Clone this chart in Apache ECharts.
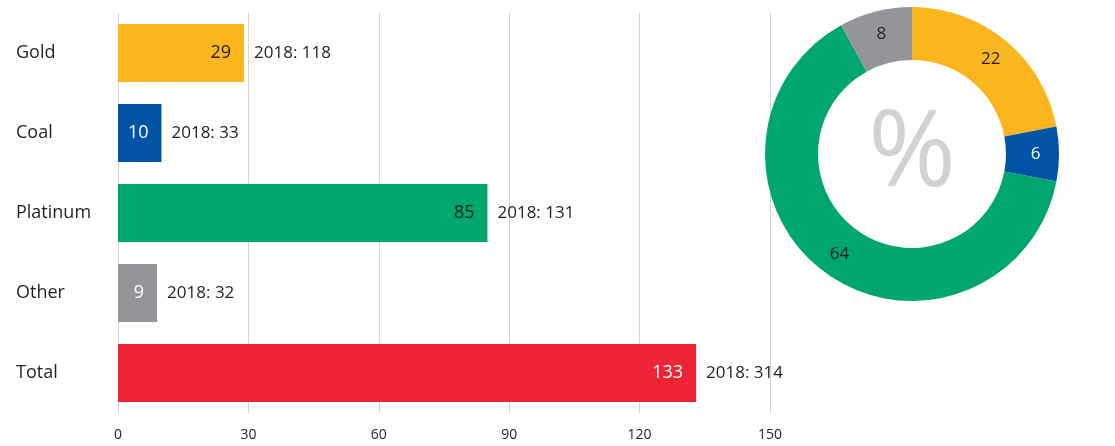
<!DOCTYPE html>
<html>
<head>
<meta charset="utf-8">
<script src="https://cdn.jsdelivr.net/npm/echarts@6/dist/echarts.min.js"></script>
<style>
  html, body { margin: 0; padding: 0; background: #fff; }
  #chart { width: 1115px; height: 446px; }
</style>
</head>
<body>
<div id="chart"></div>
<script>
const categories = ["Gold", "Coal", "Platinum", "Other", "Total"];
const values2019 = [29, 10, 85, 9, 133];
const values2018 = [118, 33, 131, 32, 314];
const barColors = ["#FBB51F", "#0053A5", "#00A66F", "#939598", "#EE2536"];
const insideTextColors = ["#231f20", "#ffffff", "#231f20", "#ffffff", "#ffffff"];

const shareNames = ["Gold", "Coal", "Platinum", "Other"];
const shareValues = [22, 6, 64, 8];
const shareColors = ["#FBB51F", "#0053A5", "#00A66F", "#939598"];
const shareTextColors = ["#231f20", "#ffffff", "#231f20", "#231f20"];

const font = "'Open Sans', 'Noto Sans', sans-serif";

const chart = echarts.init(document.getElementById("chart"));

chart.setOption({
  backgroundColor: "#ffffff",
  animation: false,
  textStyle: { fontFamily: font },
  grid: {
    left: 118,
    right: 345,
    top: 13,
    bottom: 33,
    outerBoundsMode: "none",
  },
  xAxis: {
    type: "value",
    min: 0,
    max: 150,
    interval: 30,
    axisLine: { show: false },
    axisTick: { show: false },
    axisLabel: { color: "#231f20", fontSize: 14, margin: 15, fontFamily: font },
    splitLine: { show: true, lineStyle: { color: "#d4d4d4", width: 1 } },
  },
  yAxis: {
    type: "category",
    data: categories,
    inverse: true,
    axisLine: { show: false },
    axisTick: { show: false },
    axisLabel: {
      color: "#231f20",
      fontSize: 18,
      align: "left",
      margin: 102,
      fontFamily: font,
    },
  },
  graphic: [
    {
      type: "text",
      x: 912,
      y: 156,
      z: 10,
      style: {
        text: "%",
        fill: "#d1d2d4",
        font: "106px 'Open Sans', sans-serif",
        align: "center",
        verticalAlign: "middle",
      },
    },
  ],
  series: [
    {
      type: "bar",
      barWidth: 58,
      data: values2019.map((v, i) => ({
        value: v,
        itemStyle: { color: barColors[i] },
        label: { color: insideTextColors[i] },
      })),
      label: {
        show: true,
        position: "insideRight",
        distance: 13,
        fontSize: 18,
        fontFamily: font,
      },
    },
    {
      type: "bar",
      barWidth: 58,
      barGap: "-100%",
      silent: true,
      itemStyle: { color: "rgba(0,0,0,0)" },
      data: values2019,
      label: {
        show: true,
        position: "right",
        distance: 10,
        fontSize: 17,
        color: "#231f20",
        fontFamily: font,
        formatter: (p) => "2018: " + values2018[p.dataIndex],
      },
    },
    {
      type: "pie",
      center: [912, 154],
      radius: [94, 147],
      startAngle: 90,
      clockwise: true,
      z: 5,
      data: shareValues.map((v, i) => ({
        name: shareNames[i],
        value: v,
        itemStyle: { color: shareColors[i] },
        label: { color: shareTextColors[i] },
      })),
      label: {
        show: true,
        position: "inside",
        fontSize: 17,
        fontFamily: font,
        formatter: "{c}",
      },
      labelLine: { show: false },
    },
  ],
});
</script>
</body>
</html>
